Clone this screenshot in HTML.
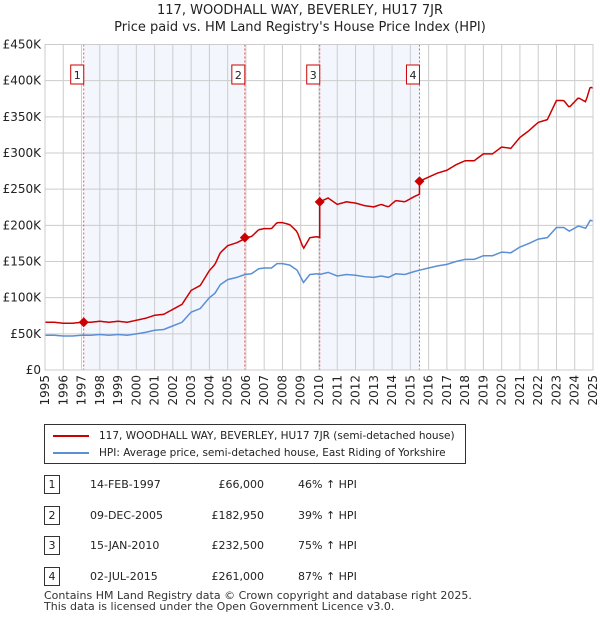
<!DOCTYPE html>
<html><head><meta charset="utf-8">
<style>
body{margin:0;background:#fff;font-family:"DejaVu Sans","Liberation Sans",sans-serif;}
#wrap{position:relative;width:600px;height:620px;overflow:hidden;}
.t{position:absolute;font-size:12px;color:#222;}
.xl{position:absolute;width:14px;height:40px;line-height:14px;font-size:12px;color:#222;white-space:nowrap;}
</style></head><body>
<div id="wrap">
<div class="t" style="left:0;width:600px;text-align:center;top:2px;font-size:13px;line-height:17px">117, WOODHALL WAY, BEVERLEY, HU17 7JR<br>Price paid vs. HM Land Registry's House Price Index (HPI)</div>
<svg id="chart" width="600" height="420" style="position:absolute;left:0;top:0"></svg>
<div id="xlabels"></div>
<div style="position:absolute;left:44px;top:424px;width:420px;height:38px;border:1px solid #333;background:#fff">
 <div style="position:absolute;left:8px;top:5px;font-size:10.5px;color:#222;white-space:nowrap"><span style="display:inline-block;width:36px;height:2px;background:#cc0000;vertical-align:middle;margin-right:10px"></span>117, WOODHALL WAY, BEVERLEY, HU17 7JR (semi-detached house)</div>
 <div style="position:absolute;left:8px;top:22px;font-size:10.5px;color:#222;white-space:nowrap"><span style="display:inline-block;width:36px;height:2px;background:#5b8fd4;vertical-align:middle;margin-right:10px"></span>HPI: Average price, semi-detached house, East Riding of Yorkshire</div>
</div>
<div id="tbl"></div>
<div class="t" style="left:44px;top:590px;font-size:11px;line-height:11px;color:#333">Contains HM Land Registry data © Crown copyright and database right 2025.<br>This data is licensed under the Open Government Licence v3.0.</div>
</div>
<script>
const hpiYears=[1995,1995.5,1996,1996.5,1997,1997.5,1998,1998.5,1999,1999.5,2000,2000.5,2001,2001.5,2002,2002.5,2003,2003.5,2004,2004.3,2004.6,2005,2005.5,2005.94,2006.3,2006.7,2007,2007.4,2007.7,2008,2008.4,2008.8,2009.15,2009.5,2009.9,2010.04,2010.5,2011,2011.5,2012,2012.5,2013,2013.4,2013.8,2014.2,2014.7,2015.2,2015.5,2016,2016.5,2017,2017.5,2018,2018.5,2019,2019.5,2020,2020.5,2021,2021.5,2022,2022.5,2023,2023.4,2023.7,2024.2,2024.6,2024.85,2025];
const hpiValues=[48,48,47,47,48,48,49,48,49,48,50,52,55,56,61,66,80,85,100,106,118,125,128,132,133,140,141,141,147,147,145,138,121,132,133,132,135,130,132,131,129,128,130,128,133,132,136,138,141,144,146,150,153,153,158,158,163,162,170,175,181,183,197,197,192,199,196,207,206];
const saleDates=[1997.12,2005.94,2010.04,2015.5];
const salePrices=[66000,182950,232500,261000];
const saleLabels=["1","2","3","4"];
const yTicks=[0,50,100,150,200,250,300,350,400,450];
const yTickLabels=["£0","£50K","£100K","£150K","£200K","£250K","£300K","£350K","£400K","£450K"];
const tableDates=["14-FEB-1997","09-DEC-2005","15-JAN-2010","02-JUL-2015"];
const tablePrices=["£66,000","£182,950","£232,500","£261,000"];
const tablePct=["46% ↑ HPI","39% ↑ HPI","75% ↑ HPI","87% ↑ HPI"];

const X0=45,X1=593,Y0=370,Y1=44.5;
const xs=y=>X0+(y-1995)/30*(X1-X0);
const ys=v=>Y0-v/450*(Y0-Y1);
const NS="http://www.w3.org/2000/svg";
const svg=document.getElementById('chart');
function mk(tag,attrs,name){const e=document.createElementNS(NS,tag);for(const k in attrs)e.setAttribute(k,attrs[k]);


svg.appendChild(e);return e;}
function hpiAt(t){for(let i=0;i<hpiYears.length-1;i++){if(t<=hpiYears[i+1]){const f=(t-hpiYears[i])/(hpiYears[i+1]-hpiYears[i]);return hpiValues[i]+f*(hpiValues[i+1]-hpiValues[i]);}}return hpiValues[hpiValues.length-1];}
mk('rect',{x:xs(saleDates[0]),y:Y1,width:xs(saleDates[1])-xs(saleDates[0]),height:Y0-Y1,fill:'#f3f6fd'},'shade-1-2');
mk('rect',{x:xs(saleDates[2]),y:Y1,width:xs(saleDates[3])-xs(saleDates[2]),height:Y0-Y1,fill:'#f3f6fd'},'shade-3-4');
const xl=document.getElementById('xlabels');
const sideways=(window.CSS&&CSS.supports&&CSS.supports('writing-mode','sideways-lr'));
for(let yr=1995;yr<=2025;yr++){mk('line',{x1:xs(yr),x2:xs(yr),y1:Y1,y2:Y0,stroke:'#ccc','stroke-width':1},'x-gridline');
 const d=document.createElement('div');d.className='xl';
 
 
 if(sideways){d.style.writingMode='sideways-lr';d.style.textAlign='end';}
 else{d.style.writingMode='vertical-rl';d.style.textAlign='start';}
 d.style.left=(xs(yr)-7)+'px';d.style.top=(Y0+5)+'px';d.textContent=yr;xl.appendChild(d);}
yTicks.forEach((v,i)=>{mk('line',{x1:X0,x2:X1,y1:ys(v),y2:ys(v),stroke:'#ccc','stroke-width':1},'y-gridline');
 const t=mk('text',{x:X0-4,y:ys(v)+4,'text-anchor':'end','font-size':12,fill:'#222','font-family':'DejaVu Sans, Liberation Sans, sans-serif'},'y-tick-label');t.textContent=yTickLabels[i];});
saleDates.forEach((d,i)=>{mk('line',{x1:xs(d),x2:xs(d),y1:Y1,y2:Y0,stroke:'#e55','stroke-width':1,'stroke-dasharray':'2,2'},'sale-marker-line');
 mk('rect',{x:xs(d)-13,y:65,width:13,height:19,fill:'#fff',stroke:'#c00','stroke-width':1},'sale-label-box');
 const t=mk('text',{x:xs(d)-6.5,y:79,'text-anchor':'middle','font-size':11,fill:'#222','font-family':'DejaVu Sans, sans-serif'},'sale-label');t.textContent=saleLabels[i];});
mk('polyline',{points:hpiYears.map((y,i)=>xs(y)+','+ys(hpiValues[i])).join(' '),fill:'none',stroke:'#5b8fd4','stroke-width':1.5},'hpi-line');
let pts=[];const steps=[];for(let t=1995;t<=2025.001;t+=1/12)steps.push(t);saleDates.forEach(d=>{steps.push(d-0.001,d);});steps.sort((a,b)=>a-b);
steps.forEach(t=>{let k=0;for(let i=0;i<saleDates.length;i++)if(t>=saleDates[i])k=i;
 const v=salePrices[k]/1000*hpiAt(t)/hpiAt(saleDates[k]);pts.push(xs(t)+','+ys(v));});
mk('polyline',{points:pts.join(' '),fill:'none',stroke:'#cc0000','stroke-width':1.5},'property-line');
saleDates.forEach((d,i)=>{const cx=xs(d),cy=ys(salePrices[i]/1000);mk('polygon',{points:`${cx},${cy-5} ${cx+5},${cy} ${cx},${cy+5} ${cx-5},${cy}`,fill:'#cc0000'},'sale-point');});
mk('rect',{x:X0,y:Y1,width:X1-X0,height:Y0-Y1,fill:'none',stroke:'#ccc'},'plot-border');
const tbl=document.getElementById('tbl');
tableDates.forEach((d,i)=>{const top=475+i*30.5;
 const r=document.createElement('div');r.style.cssText=`position:absolute;left:0;top:${top}px;width:600px;height:20px;font-size:11px;color:#222`;
 
 
 r.innerHTML=`<span style="position:absolute;left:44px;top:0;width:14px;height:17px;border:1px solid #333;text-align:center;line-height:17px">${saleLabels[i]}</span><span style="position:absolute;left:90px;top:3px">${d}</span><span style="position:absolute;left:180px;width:84px;text-align:right;top:3px">${tablePrices[i]}</span><span style="position:absolute;left:298px;top:3px">${tablePct[i]}</span>`;
 tbl.appendChild(r);});
</script>
</body></html>
